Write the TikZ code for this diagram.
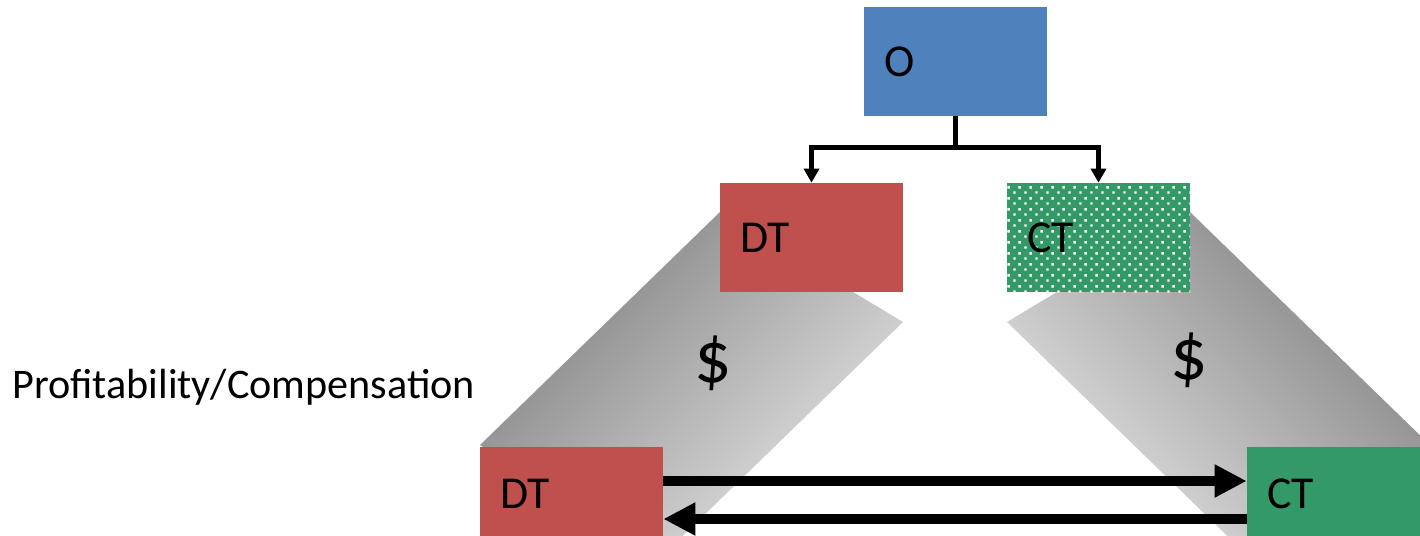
\documentclass[tikz,border=0pt]{standalone}
\usepackage{fontspec}
\setmainfont{Carlito}
\usetikzlibrary{arrows.meta,patterns.meta,positioning}

\definecolor{ownerblue}{RGB}{79,129,189}
\definecolor{dtred}{RGB}{192,80,77}
\definecolor{ctgreen}{RGB}{51,153,102}

% square dots on a diagonal grid
\tikzdeclarepattern{
  name=dotgrid,
  type=uncolored,
  bottom left={(0pt,0pt)}, top right={(6pt,6pt)},
  tile size={(6pt,6pt)},
  code={
    \fill (0.8pt,0.8pt) rectangle ++(1.4pt,1.4pt);
    \fill (3.8pt,3.8pt) rectangle ++(1.4pt,1.4pt);
  }
}

\begin{document}
\begin{tikzpicture}[
    x=0.2mm, y=-0.2mm,
    firm/.style={rectangle, minimum width=3.66cm, minimum height=2.18cm,
                 inner xsep=0.4cm, text width=2.86cm, align=left,
                 font=\fontsize{26}{30}\selectfont},
    band/.style={top color=black!50, bottom color=black!10, shading angle=#1},
    tree/.style={-{Triangle[length=0.28cm,width=0.3cm]}, line width=0.1cm},
    flow/.style={-{Triangle[length=0.64cm,width=0.62cm]}, line width=0.2cm},
    money/.style={font=\fontsize{42}{46}\selectfont}
]
\useasboundingbox (0,0) rectangle (1420,536);
\clip (0,0) rectangle (1420,536);

% payment bands behind the boxes
\shade[band=45] (720,212) -- (903,322) -- (663,555) -- (480,445) -- cycle;
\shade[band=-45] (1190,212) -- (1007,322) -- (1247,555) -- (1430,445) -- cycle;

\node[firm, fill=ownerblue] (owner) at (955.5,61.5) {O};
\node[firm, fill=dtred] (dtup) at (811.5,237.5) {DT};
\node[firm, fill=ctgreen,
      postaction={pattern=dotgrid, pattern color=white}] (ctup) at (1098.5,237.5) {CT};

\node[firm, fill=dtred, minimum height=1.88cm] (dtlow) at (571.5,494) {DT};
\node[firm, fill=ctgreen, minimum height=1.88cm] (ctlow) at (1338.5,494) {CT};

\draw[tree] (owner.south) -- ++(0,31) -| (dtup.north);
\draw[tree] (owner.south) -- ++(0,31) -| (ctup.north);

\draw[flow] ([yshift=0.26cm]dtlow.east) -- ([yshift=0.26cm]ctlow.west);
\draw[flow] ([yshift=-0.5cm]ctlow.west) -- ([yshift=-0.5cm]dtlow.east);

\node[money] (payleft) at (713,363) {\$};
\node[money] (payright) at (1189,360) {\$};

\node[anchor=base west, inner sep=0, font=\fontsize{24}{28}\selectfont] (measure) at (12,398) {Profitability/Compensation};
\end{tikzpicture}
\end{document}
